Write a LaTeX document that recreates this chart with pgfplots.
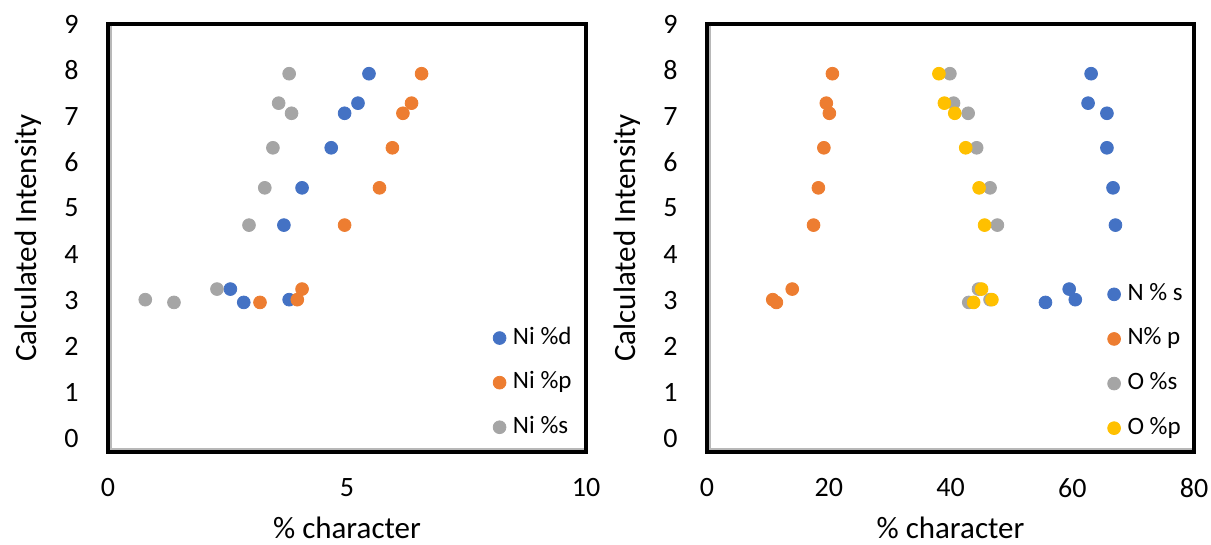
\documentclass[border=0pt]{standalone}
\usepackage{fontspec}
\setmainfont{Carlito}
\usepackage{pgfplots}
\pgfplotsset{compat=1.18}
\usetikzlibrary{calc}
\definecolor{cBlue}{HTML}{4472C4}
\definecolor{cOrange}{HTML}{ED7D31}
\definecolor{cGray}{HTML}{A5A5A5}
\definecolor{cGold}{HTML}{FFC000}
\pgfplotsset{
  myaxis/.style={
    scale only axis, height=214pt, anchor=south west,
    ymin=-0.3, ymax=9, ytick={0,1,...,9},
    axis line style={black, line width=1.6pt},
    major tick length=0pt,
    /pgf/number format/assume math mode=true,
    ticklabel style={font=\fontsize{14}{16}\selectfont, inner sep=0pt},
    yticklabel style={anchor=east, xshift=-14.5pt},
    xticklabel style={anchor=north, yshift=-13pt},
    label style={font=\fontsize{15.5}{18}\selectfont},
    xlabel style={at={(axis description cs:0.5,0)}, anchor=base, yshift=-43.3pt},
    ylabel style={at={($(axis description cs:0,0.5)+(-40pt,0pt)$)}, anchor=center},
    xlabel={\% character}, ylabel={Calculated Intensity},
    clip=false,
    legend cell align=left,
    legend image code/.code={\draw[mark repeat=2,mark phase=2,##1] plot coordinates {(0pt,0pt) (3pt,0pt) (6pt,0pt)}; \path (8.5pt,0pt);},
    legend style={draw=none, fill=none, inner sep=0pt, anchor=west,
      font=\fontsize{12.5}{14}\selectfont, row sep=9.3pt,
      nodes={inner sep=1pt, text height=8.5pt, text depth=2.5pt}},
  },
  pts/.style={only marks, mark=*, mark size=3.2pt, color=#1, mark options={fill=#1, draw=#1}},
}
\newcommand{\innerframe}{%
  \draw[black!28, line width=1.4pt]
    ([xshift=1.5pt,yshift=-0.8pt]rel axis cs:0,1) --
    ([xshift=1.5pt,yshift=1.5pt]rel axis cs:0,0) --
    ([xshift=-0.8pt,yshift=1.5pt]rel axis cs:1,0);}
\begin{document}
\begin{tikzpicture}
\useasboundingbox (0,0) rectangle (605.5pt,272.5pt);
\begin{axis}[myaxis, at={(54pt,46.5pt)}, width=239pt,
  xmin=0, xmax=10, xtick={0,5,10},
  legend style={at={(0.805,0.162)}}]
\innerframe
\addplot[pts=cBlue] coordinates {(5.46,7.92) (5.23,7.28) (4.95,7.06) (4.67,6.31) (4.06,5.44) (3.68,4.63) (2.56,3.24) (2.84,2.95) (3.79,3.01)};
\addlegendentry{Ni \%d}
\addplot[pts=cOrange] coordinates {(6.56,7.92) (6.35,7.28) (6.17,7.06) (5.95,6.31) (5.68,5.44) (4.95,4.63) (4.06,3.24) (3.96,3.01) (3.18,2.95)};
\addlegendentry{Ni \%p}
\addplot[pts=cGray] coordinates {(3.79,7.92) (3.57,7.28) (3.84,7.06) (3.45,6.31) (3.28,5.44) (2.95,4.63) (2.28,3.24) (0.78,3.01) (1.38,2.95)};
\addlegendentry{Ni \%s}
\end{axis}
\begin{axis}[myaxis, at={(353.5pt,46.5pt)}, width=243.5pt,
  xmin=0, xmax=80, xtick={0,20,40,60,80},
  legend style={at={(0.822,0.212)}}]
\innerframe
\addplot[pts=cBlue] coordinates {(63.1,7.92) (62.6,7.28) (65.7,7.06) (65.7,6.31) (66.7,5.44) (67.1,4.63) (59.5,3.24) (60.5,3.01) (55.6,2.95)};
\addlegendentry{N \% s}
\addplot[pts=cOrange] coordinates {(20.6,7.92) (19.6,7.28) (20.1,7.06) (19.2,6.31) (18.3,5.44) (17.5,4.63) (14.0,3.24) (10.8,3.01) (11.4,2.95)};
\addlegendentry{N\% p}
\addplot[pts=cGray] coordinates {(39.9,7.92) (40.5,7.28) (42.9,7.06) (44.3,6.31) (46.5,5.44) (47.7,4.63) (44.6,3.24) (46.5,3.01) (43.0,2.95)};
\addlegendentry{O \%s}
\addplot[pts=cGold] coordinates {(38.1,7.92) (39.0,7.28) (40.7,7.06) (42.5,6.31) (44.7,5.44) (45.6,4.63) (45.1,3.24) (46.8,3.01) (43.8,2.95)};
\addlegendentry{O \%p}
\end{axis}
\end{tikzpicture}
\end{document}
